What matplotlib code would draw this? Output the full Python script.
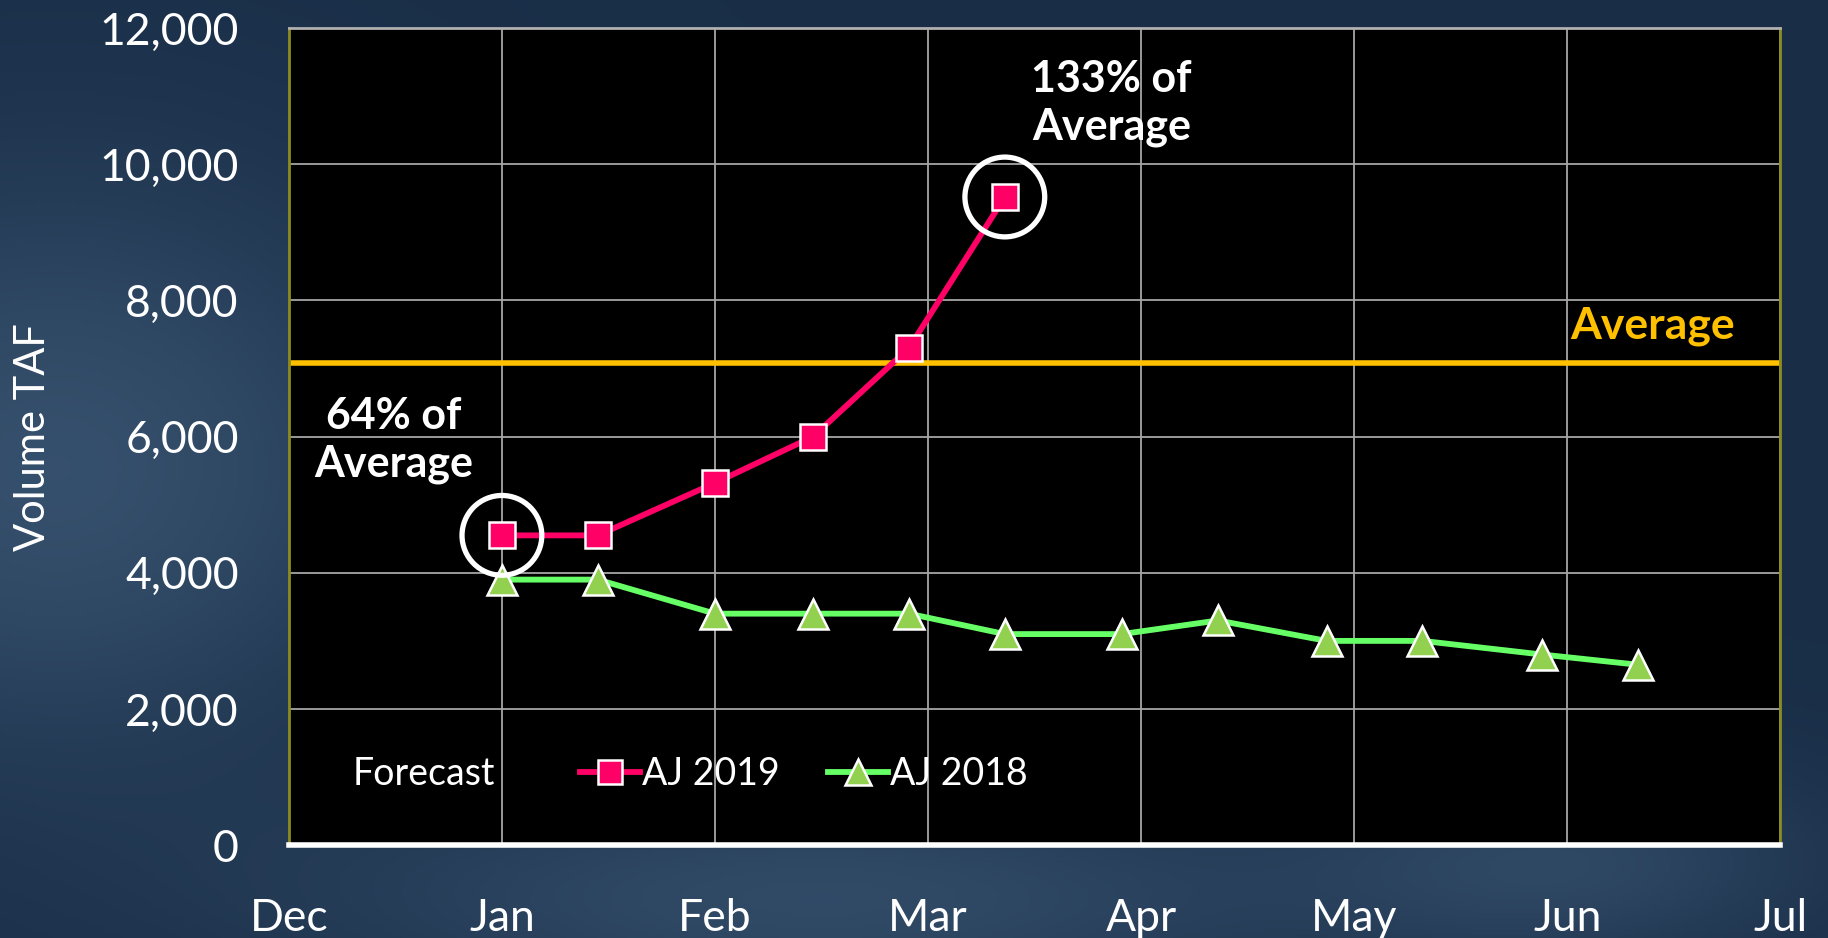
import numpy as np
import matplotlib.pyplot as plt

# x positions in months after 1 Dec (0 = Dec, 1 = Jan, ... 7 = Jul)
month_labels = ['Dec', 'Jan', 'Feb', 'Mar', 'Apr', 'May', 'Jun', 'Jul']

# AJ 2019 forecasts (TAF)
x_2019 = [1.0, 1.45, 2.0, 2.46, 2.91, 3.36]
aj_2019 = [4550, 4550, 5320, 6000, 7300, 9520]

# AJ 2018 forecasts (TAF)
x_2018 = [1.0, 1.45, 2.0, 2.46, 2.91, 3.36, 3.91, 4.36, 4.87, 5.32, 5.88, 6.33]
aj_2018 = [3900, 3900, 3400, 3400, 3400, 3100, 3100, 3300, 3000, 3000, 2800, 2650]

average = 7080

plt.rcParams['font.family'] = ['Lato', 'DejaVu Sans']

fig = plt.figure(figsize=(18.28, 9.38), dpi=100)

# background: smooth dark-blue gradient
bg = fig.add_axes([0, 0, 1, 1], zorder=-10)
yy, xx = np.mgrid[0:1:300j, 0:1:600j]
base = np.array([0.10, 0.18, 0.28])
light = np.array([0.28, 0.40, 0.52])
w = (0.6 * np.exp(-((xx - 0.03) ** 2 / 0.04 + (yy - 0.5) ** 2 / 0.10))
     + 0.5 * np.exp(-((xx - 0.45) ** 2 / 0.08 + (yy - 0.04) ** 2 / 0.015))
     + 0.4 * np.exp(-((xx - 0.86) ** 2 / 0.02 + (yy - 0.08) ** 2 / 0.012)))
w = np.clip(w, 0, 1)[..., None]
img = base * (1 - w) + light * w
bg.imshow(img, aspect='auto', extent=[0, 1, 0, 1], origin='lower')
bg.axis('off')

ax = fig.add_axes([0.158, 0.099, 0.816, 0.871])
ax.set_facecolor('black')

ax.axhline(average, color='#FFC000', linewidth=4, zorder=2)

ax.plot(x_2019, aj_2019, color='#FF0066', linewidth=4.2, marker='s',
        markersize=19, markerfacecolor='#FF0066', markeredgecolor='white',
        markeredgewidth=1.8, label='AJ 2019', zorder=4)
ax.plot(x_2018, aj_2018, color='#66FF66', linewidth=4.2, marker='^',
        markersize=21, markerfacecolor='#92D050', markeredgecolor='white',
        markeredgewidth=1.8, label='AJ 2018', zorder=3)

# highlight circles
ax.scatter([x_2019[0], x_2019[-1]], [aj_2019[0], aj_2019[-1]], s=3300,
           facecolors='none', edgecolors='white', linewidths=3.8, zorder=5)

ax.set_xlim(0, 7)
ax.set_ylim(0, 12000)
ax.set_xticks(range(len(month_labels)))
ax.set_xticklabels(month_labels)
ax.set_yticks(range(0, 12001, 2000))
ax.set_yticklabels([f'{v:,}' for v in range(0, 12001, 2000)])
ax.tick_params(axis='both', length=0, colors='white', labelsize=32)
ax.tick_params(axis='y', pad=36)
ax.tick_params(axis='x', pad=38)
ax.grid(True, color='#a6a6a6', linewidth=1.3)
ax.set_axisbelow(True)

for side in ['left', 'right', 'top']:
    ax.spines[side].set_color('#8c8c1e')
    ax.spines[side].set_linewidth(2)
ax.spines['top'].set_color('#b0b0b0')
ax.spines['bottom'].set_color('white')
ax.spines['bottom'].set_linewidth(4)

ax.set_ylabel('Volume TAF', color='white', fontsize=30, labelpad=34)

ax.text(3.86, 10900, '133% of\nAverage', color='white', fontsize=31,
        fontweight='bold', ha='center', va='center', linespacing=1.25)
ax.text(0.49, 5950, '64% of\nAverage', color='white', fontsize=31,
        fontweight='bold', ha='center', va='center', linespacing=1.25)
ax.text(6.4, 7620, 'Average', color='#FFC000', fontsize=32,
        fontweight='bold', ha='center', va='center')

ax.text(0.3, 1050, 'Forecast', color='white', fontsize=27, va='center')
leg = ax.legend(loc='center left', bbox_to_anchor=(0.195, 0.0875), ncol=2,
                frameon=False, fontsize=27, handlelength=1.6, borderpad=0,
                borderaxespad=0, handletextpad=0.05, columnspacing=1.3,
                markerscale=0.9)
for t in leg.get_texts():
    t.set_color('white')

plt.savefig('out.png', dpi=100)
